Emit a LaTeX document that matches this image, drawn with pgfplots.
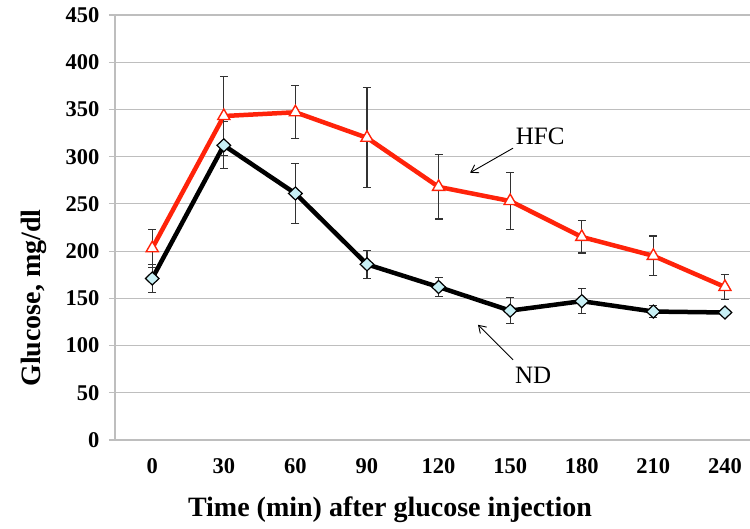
\documentclass[border=0pt]{standalone}
\usepackage{pgfplots}
\pgfplotsset{compat=1.18}
\usepackage{fontspec}
\setmainfont{Liberation Serif}
\usetikzlibrary{arrows.meta}
\definecolor{hfcred}{RGB}{255,35,10}
\definecolor{ndfill}{RGB}{200,240,245}
\definecolor{gridgray}{RGB}{190,190,190}
\definecolor{errgray}{RGB}{50,50,50}
\begin{document}
\begin{tikzpicture}[x=1pt,y=1pt]
\path[use as bounding box] (0,0) rectangle (750,529);
\begin{axis}[
 at={(115pt,89pt)}, anchor=south west,
 scale only axis, width=635pt, height=425pt,
 xmin=-0.52, xmax=8.35, ymin=0, ymax=450,
 xtick={0,1,2,3,4,5,6,7,8},
 xticklabels={0,30,60,90,120,150,180,210,240},
 ytick={0,50,100,150,200,250,300,350,400,450},
 axis x line*=bottom, axis y line*=left,
 axis line style={gridgray, line width=1.2pt, -},
 ymajorgrids, grid style={gridgray, line width=1.2pt},
 x tick style={draw=none},
 y tick style={gridgray, line width=1.2pt},
 tick align=outside, major tick length=6pt,
 ticklabel style={font=\fontsize{22.5}{22.5}\selectfont\bfseries},
 /pgf/number format/assume math mode=true,
 xticklabel style={yshift=-9pt},
 yticklabel style={xshift=-6pt},
 xlabel={Time (min) after glucose injection},
 ylabel={Glucose, mg/dl},
 xlabel style={font=\fontsize{28}{28}\selectfont\bfseries, at={(axis description cs:0.433,-0.181)}, anchor=base},
 ylabel style={font=\fontsize{28}{28}\selectfont\bfseries, at={(axis description cs:-0.118,0.334)}, anchor=base},
 every axis plot/.append style={line width=4.5pt},
]
\addplot[black, mark=diamond*, mark size=6.5pt,
  mark options={fill=ndfill, draw=black, line width=1.2pt, solid, xscale=1.4},
  error bars/.cd, y dir=both, y explicit,
  error bar style={errgray, line width=1.1pt},
  error mark options={errgray, line width=1.1pt, rotate=90, mark size=4pt}]
coordinates {
(0,171) +- (0,15)
(1,312) +- (0,25)
(2,261) +- (0,32)
(3,186) +- (0,15)
(4,162) +- (0,10)
(5,137) +- (0,14)
(6,147) +- (0,13)
(7,136) +- (0,6)
(8,135) +- (0,3)
};
\addplot[hfcred, mark=triangle*, mark size=7pt,
  mark options={fill=white, draw=hfcred, line width=1.4pt, solid},
  error bars/.cd, y dir=both, y explicit,
  error bar style={errgray, line width=1.1pt},
  error mark options={errgray, line width=1.1pt, rotate=90, mark size=4pt}]
coordinates {
(0,203) +- (0,20)
(1,343) +- (0,42)
(2,347) +- (0,28)
(3,320) +- (0,53)
(4,268) +- (0,34)
(5,253) +- (0,30)
(6,215) +- (0,17)
(7,195) +- (0,21)
(8,162) +- (0,13)
};
\node[font=\fontsize{25}{25}\selectfont] at (axis cs:5.42,321) {HFC};
\draw[-{Straight Barb[length=7pt,width=9pt]}, line width=0.9pt] (axis cs:5.04,309) -- (axis cs:4.44,283);
\node[font=\fontsize{25}{25}\selectfont] at (axis cs:5.32,68) {ND};
\draw[-{Straight Barb[length=7pt,width=9pt]}, line width=0.9pt] (axis cs:5.04,85) -- (axis cs:4.55,122);
\end{axis}
\end{tikzpicture}
\end{document}
